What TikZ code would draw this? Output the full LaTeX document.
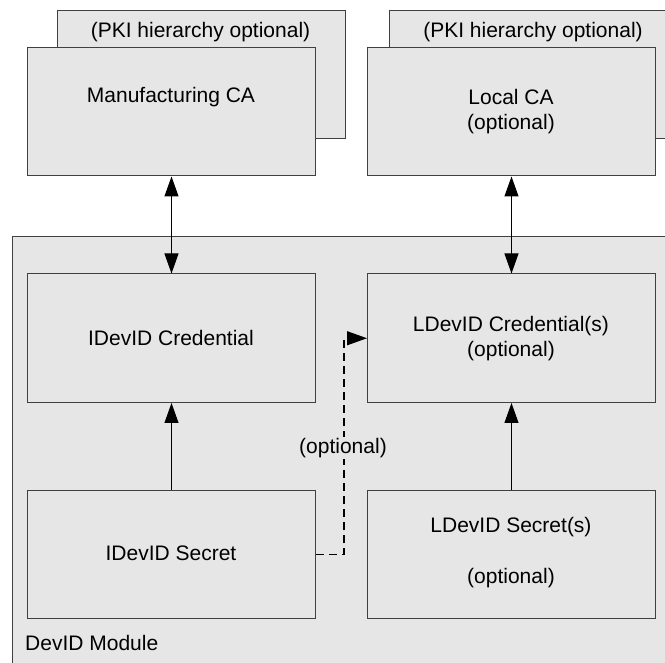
\documentclass[tikz,border=0pt]{standalone}
\usepackage{fontspec}
\setmainfont{Liberation Sans}
\usetikzlibrary{arrows.meta}
\definecolor{boxfill}{HTML}{E6E6E6}
\definecolor{edge}{HTML}{404040}
\begin{document}
\begin{tikzpicture}[x=1pt,y=-1pt,
  box/.style={rectangle, draw=edge, fill=boxfill, line width=1pt,
    minimum width=288pt, minimum height=128.5pt, inner sep=0pt, anchor=north west},
  lbl/.style={font=\fontsize{21}{25.5}\selectfont, align=center, inner sep=0pt},
  tip/.tip={Triangle[length=20pt,width=14pt]},
  conn/.style={line width=1pt, draw=black, -tip},
  dconn/.style={conn, line width=1.1pt, dash pattern=on 8pt off 5pt}]
\useasboundingbox (0,0) rectangle (665,663);
\clip (0,0) rectangle (665,663);
\fill[white] (0,0) rectangle (665,663);
% DevID module (extends past the picture)
\node[box, minimum width=720pt, minimum height=500pt] (module) at (12,236) {};
% back boxes
\node[box] (mfgback) at (57,10) {};
\node[box] (localback) at (389,10) {};
% front boxes
\node[box] (mfg) at (27,47) {};
\node[box] (local) at (367,47) {};
\node[box] (idcred) at (27,273.5) {};
\node[box] (ldcred) at (367,273.5) {};
\node[box] (idsec) at (27,489.5) {};
\node[box] (ldsec) at (367,489.5) {};
% texts
\node[lbl] (mfgbackt) at (200.5,32) {(PKI hierarchy optional)};
\node[lbl] (localbackt) at (533,32) {(PKI hierarchy optional)};
\node[lbl] (mfgt) at (171,97) {Manufacturing CA};
\node[lbl] (localt) at (511,111.5) {Local CA\\(optional)};
\node[lbl] (idcredt) at (171,338) {IDevID Credential};
\node[lbl] (ldcredt) at (511,338.5) {LDevID Credential(s)\\(optional)};
\node[lbl] (idsect) at (171,553.5) {IDevID Secret};
\node[lbl] (ldsect) at (511,553) {LDevID Secret(s)\\[25.5pt](optional)};
\node[lbl, anchor=west] (modt) at (25,643) {DevID Module};
% connectors
\draw[conn, tip-tip] (mfg.south) -- (idcred.north);
\draw[conn, tip-tip] (local.south) -- (ldcred.north);
\draw[conn] (idsec.north) -- (idcred.south);
\draw[conn] (ldsec.north) -- (ldcred.south);
\draw[dconn] (idsec.east) -- ++(28,0) coordinate (dbend) |- (ldcred.west);
\node[lbl, fill=boxfill, inner sep=1pt] (optl) at (343,448) {(optional)};
\end{tikzpicture}
\end{document}
